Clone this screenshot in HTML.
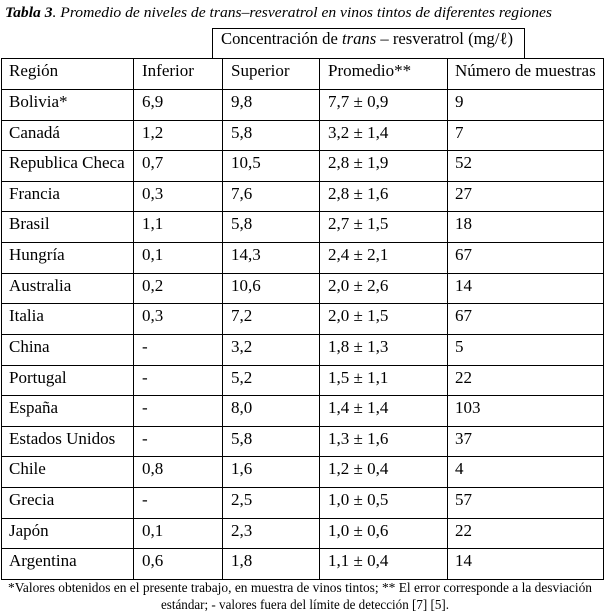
<!DOCTYPE html>
<html><head><meta charset="utf-8">
<style>
html,body{margin:0;padding:0;background:#fff;}
svg{display:block;}
text{font-family:"Liberation Serif","DejaVu Serif",serif;fill:#000;}
.c{font-size:17px;}
</style></head>
<body>
<svg width="605" height="613" viewBox="0 0 605 613" xmlns="http://www.w3.org/2000/svg">
<rect width="605" height="613" fill="#fff"/>
<!-- title -->
<text x="5" y="17" font-size="15" font-style="italic" textLength="547" lengthAdjust="spacingAndGlyphs"><tspan font-weight="bold">Tabla 3</tspan>. Promedio de niveles de trans–resveratrol en vinos tintos de diferentes regiones</text>
<!-- header box -->
<g stroke="#000" stroke-width="1" fill="none" shape-rendering="crispEdges">
<path d="M212.5 58 V28.5 H524.5 V58"/>
</g>
<text x="221" y="44" class="c" textLength="292" lengthAdjust="spacingAndGlyphs">Concentración de <tspan font-style="italic">trans</tspan> – resveratrol (mg/ℓ)</text>
<!-- grid -->
<g stroke="#000" stroke-width="1" shape-rendering="crispEdges">
<line x1="1" y1="58.5" x2="604" y2="58.5"/>
<line x1="1" y1="89.5" x2="604" y2="89.5"/>
<line x1="1" y1="120.5" x2="604" y2="120.5"/>
<line x1="1" y1="150.5" x2="604" y2="150.5"/>
<line x1="1" y1="181.5" x2="604" y2="181.5"/>
<line x1="1" y1="211.5" x2="604" y2="211.5"/>
<line x1="1" y1="242.5" x2="604" y2="242.5"/>
<line x1="1" y1="273.5" x2="604" y2="273.5"/>
<line x1="1" y1="303.5" x2="604" y2="303.5"/>
<line x1="1" y1="334.5" x2="604" y2="334.5"/>
<line x1="1" y1="365.5" x2="604" y2="365.5"/>
<line x1="1" y1="395.5" x2="604" y2="395.5"/>
<line x1="1" y1="426.5" x2="604" y2="426.5"/>
<line x1="1" y1="456.5" x2="604" y2="456.5"/>
<line x1="1" y1="487.5" x2="604" y2="487.5"/>
<line x1="1" y1="518.5" x2="604" y2="518.5"/>
<line x1="1" y1="548.5" x2="604" y2="548.5"/>
<line x1="1" y1="579.5" x2="604" y2="579.5"/>
<line x1="1.5" y1="58" x2="1.5" y2="580"/>
<line x1="133.5" y1="58" x2="133.5" y2="580"/>
<line x1="222.5" y1="58" x2="222.5" y2="580"/>
<line x1="319.5" y1="58" x2="319.5" y2="580"/>
<line x1="447.5" y1="58" x2="447.5" y2="580"/>
<line x1="603.5" y1="58" x2="603.5" y2="580"/>
</g>
<!-- header row -->
<g class="c">
<text x="9" y="76" class="c">Región</text>
<text x="142" y="76" class="c">Inferior</text>
<text x="231" y="76" class="c">Superior</text>
<text x="328" y="76" class="c">Promedio**</text>
<text x="455" y="76" class="c">Número de muestras</text>
</g>
<!-- data rows -->
<g>
<text x="9" y="107" class="c">Bolivia*</text><text x="142" y="107" class="c">6,9</text><text x="231" y="107" class="c">9,8</text><text x="328" y="107" class="c">7,7 ± 0,9</text><text x="455" y="107" class="c">9</text>
<text x="9" y="138" class="c">Canadá</text><text x="142" y="138" class="c">1,2</text><text x="231" y="138" class="c">5,8</text><text x="328" y="138" class="c">3,2 ± 1,4</text><text x="455" y="138" class="c">7</text>
<text x="9" y="168" class="c">Republica Checa</text><text x="142" y="168" class="c">0,7</text><text x="231" y="168" class="c">10,5</text><text x="328" y="168" class="c">2,8 ± 1,9</text><text x="455" y="168" class="c">52</text>
<text x="9" y="199" class="c">Francia</text><text x="142" y="199" class="c">0,3</text><text x="231" y="199" class="c">7,6</text><text x="328" y="199" class="c">2,8 ± 1,6</text><text x="455" y="199" class="c">27</text>
<text x="9" y="229" class="c">Brasil</text><text x="142" y="229" class="c">1,1</text><text x="231" y="229" class="c">5,8</text><text x="328" y="229" class="c">2,7 ± 1,5</text><text x="455" y="229" class="c">18</text>
<text x="9" y="260" class="c">Hungría</text><text x="142" y="260" class="c">0,1</text><text x="231" y="260" class="c">14,3</text><text x="328" y="260" class="c">2,4 ± 2,1</text><text x="455" y="260" class="c">67</text>
<text x="9" y="291" class="c">Australia</text><text x="142" y="291" class="c">0,2</text><text x="231" y="291" class="c">10,6</text><text x="328" y="291" class="c">2,0 ± 2,6</text><text x="455" y="291" class="c">14</text>
<text x="9" y="321" class="c">Italia</text><text x="142" y="321" class="c">0,3</text><text x="231" y="321" class="c">7,2</text><text x="328" y="321" class="c">2,0 ± 1,5</text><text x="455" y="321" class="c">67</text>
<text x="9" y="352" class="c">China</text><text x="142" y="352" class="c">-</text><text x="231" y="352" class="c">3,2</text><text x="328" y="352" class="c">1,8 ± 1,3</text><text x="455" y="352" class="c">5</text>
<text x="9" y="383" class="c">Portugal</text><text x="142" y="383" class="c">-</text><text x="231" y="383" class="c">5,2</text><text x="328" y="383" class="c">1,5 ± 1,1</text><text x="455" y="383" class="c">22</text>
<text x="9" y="413" class="c">España</text><text x="142" y="413" class="c">-</text><text x="231" y="413" class="c">8,0</text><text x="328" y="413" class="c">1,4 ± 1,4</text><text x="455" y="413" class="c">103</text>
<text x="9" y="444" class="c">Estados Unidos</text><text x="142" y="444" class="c">-</text><text x="231" y="444" class="c">5,8</text><text x="328" y="444" class="c">1,3 ± 1,6</text><text x="455" y="444" class="c">37</text>
<text x="9" y="474" class="c">Chile</text><text x="142" y="474" class="c">0,8</text><text x="231" y="474" class="c">1,6</text><text x="328" y="474" class="c">1,2 ± 0,4</text><text x="455" y="474" class="c">4</text>
<text x="9" y="505" class="c">Grecia</text><text x="142" y="505" class="c">-</text><text x="231" y="505" class="c">2,5</text><text x="328" y="505" class="c">1,0 ± 0,5</text><text x="455" y="505" class="c">57</text>
<text x="9" y="536" class="c">Japón</text><text x="142" y="536" class="c">0,1</text><text x="231" y="536" class="c">2,3</text><text x="328" y="536" class="c">1,0 ± 0,6</text><text x="455" y="536" class="c">22</text>
<text x="9" y="566" class="c">Argentina</text><text x="142" y="566" class="c">0,6</text><text x="231" y="566" class="c">1,8</text><text x="328" y="566" class="c">1,1 ± 0,4</text><text x="455" y="566" class="c">14</text>
</g>
<!-- footnote -->
<text x="8" y="592" font-size="13.5" textLength="584" lengthAdjust="spacingAndGlyphs">*Valores obtenidos en el presente trabajo, en muestra de vinos tintos; ** El error corresponde a la desviación</text>
<text x="161" y="609" font-size="13.5" textLength="288" lengthAdjust="spacingAndGlyphs">estándar; - valores fuera del límite de detección [7] [5].</text>
</svg>
</body></html>
